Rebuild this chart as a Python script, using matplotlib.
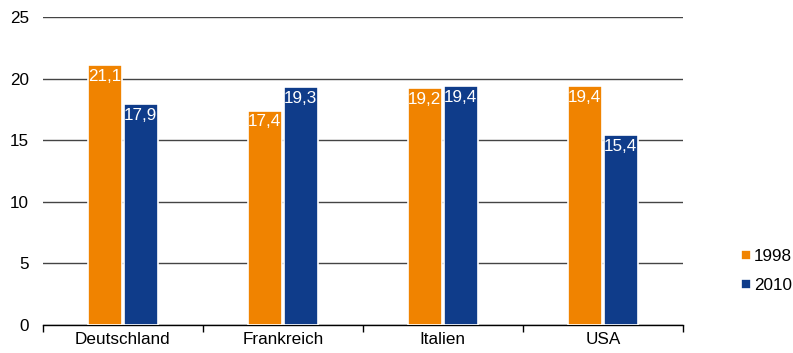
import numpy as np
import matplotlib
matplotlib.use("Agg")
import matplotlib.pyplot as plt

plt.rcParams["font.family"] = ["Liberation Sans", "DejaVu Sans"]

countries = ["Deutschland", "Frankreich", "Italien", "USA"]
years = ["1998", "2010"]
values_1998 = [21.1, 17.4, 19.2, 19.4]
values_2010 = [17.9, 19.3, 19.4, 15.4]
colors = ["#F08300", "#0F3C8A"]

fig = plt.figure(figsize=(7.93, 3.53), dpi=100)
ax = fig.add_axes([0.054, 0.079, 0.807, 0.873])

x = np.arange(len(countries))
w = 0.215
series = [values_1998, values_2010]
for i, (vals, col, yr) in enumerate(zip(series, colors, years)):
    pos = x + (i - 0.5) * (w + 0.01)
    bars = ax.bar(pos, vals, width=w, color=col, edgecolor="white", linewidth=1.2,
                  label=yr, zorder=3)
    for b, v in zip(bars, vals):
        ax.text(b.get_x() + b.get_width() / 2, v - 0.3, f"{v:.1f}".replace(".", ","),
                ha="center", va="top", color="white", fontsize=12.3, zorder=4)

ax.set_xlim(-0.5, len(countries) - 0.5)
ax.set_ylim(0, 25)
ax.set_yticks(range(0, 26, 5))
ax.yaxis.grid(True, color="#444444", linewidth=1.0, zorder=0)
ax.set_axisbelow(True)

ax.set_xticks(x)
ax.set_xticklabels(countries, fontsize=12.3)
ax.set_xticks(np.arange(-0.5, len(countries)), minor=True)
ax.tick_params(axis="x", which="major", length=0, pad=5)
ax.tick_params(axis="x", which="minor", length=5, width=1, direction="out")
ax.tick_params(axis="y", length=0, labelsize=12.3, pad=10)

for s in ["top", "right", "left"]:
    ax.spines[s].set_visible(False)
ax.spines["bottom"].set_color("black")
ax.spines["bottom"].set_linewidth(1.0)

fig.legend(loc="center left", bbox_to_anchor=(0.926, 0.232), bbox_transform=fig.transFigure,
           frameon=False, fontsize=12.3, handlelength=0.55, handleheight=0.55,
           handletextpad=0.2, labelspacing=0.8, borderpad=0.2, borderaxespad=0.2)

fig.savefig("out.png", dpi=100)
